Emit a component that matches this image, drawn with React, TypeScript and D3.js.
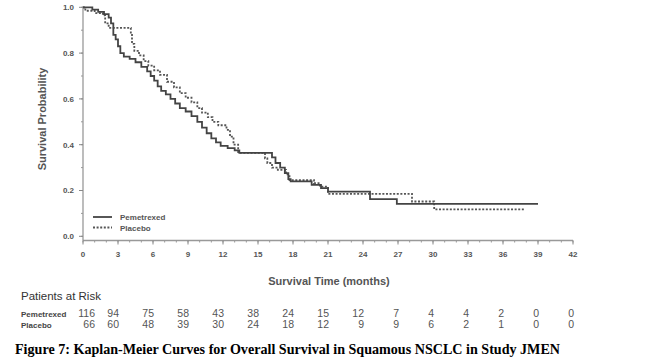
import React from "react";
import * as d3 from "d3";

// Kaplan-Meier step points: [months, survival probability]
const pemetrexedSteps: [number, number][] = [
  [0, 1.0], [0.8, 0.99], [1.3, 0.98], [1.8, 0.97], [2.2, 0.955], [2.4, 0.93], [2.6, 0.88],
  [2.8, 0.86], [3.0, 0.83], [3.2, 0.8], [3.5, 0.785], [4.0, 0.775], [4.5, 0.76], [5.0, 0.74],
  [5.5, 0.72], [5.8, 0.7], [6.1, 0.68], [6.4, 0.655], [6.7, 0.635], [7.1, 0.62], [7.5, 0.6],
  [7.9, 0.58], [8.3, 0.56], [8.8, 0.545], [9.3, 0.525], [9.8, 0.5], [10.2, 0.475], [10.6, 0.45],
  [11.0, 0.428], [11.4, 0.41], [11.8, 0.395], [12.4, 0.385], [13.0, 0.375], [13.4, 0.364],
  [16.2, 0.345], [16.5, 0.32], [16.9, 0.3], [17.3, 0.276], [17.6, 0.25], [17.8, 0.24],
  [19.6, 0.225], [20.4, 0.21], [21.0, 0.195], [24.6, 0.162], [26.9, 0.142], [39.0, 0.142],
];

const placeboSteps: [number, number][] = [
  [0, 1.0], [0.2, 0.985], [1.0, 0.975], [1.7, 0.965], [1.9, 0.93], [2.2, 0.91], [4.1, 0.88],
  [4.2, 0.84], [4.4, 0.81], [4.8, 0.79], [5.2, 0.765], [5.6, 0.745], [6.1, 0.725], [6.6, 0.705],
  [7.2, 0.675], [7.8, 0.65], [8.3, 0.625], [8.8, 0.605], [9.3, 0.585], [9.8, 0.56], [10.2, 0.54],
  [10.7, 0.52], [11.1, 0.5], [11.6, 0.485], [12.3, 0.465], [12.6, 0.435], [12.9, 0.4],
  [13.3, 0.364], [15.6, 0.34], [15.8, 0.32], [16.2, 0.3], [16.7, 0.29], [17.4, 0.27],
  [17.7, 0.245], [19.8, 0.232], [20.3, 0.217], [21.0, 0.185], [28.2, 0.152], [30.1, 0.118],
  [37.9, 0.118],
];

const riskTimes = [0, 3, 6, 9, 12, 15, 18, 21, 24, 27, 30, 33, 36, 39, 42];
const pemetrexedRisk = [116, 94, 75, 58, 43, 38, 24, 15, 12, 7, 4, 4, 2, 0, 0];
const placeboRisk = [66, 60, 48, 39, 30, 24, 18, 12, 9, 9, 6, 2, 1, 0, 0];

const yTicks = [0, 0.2, 0.4, 0.6, 0.8, 1.0];
const xTicks = d3.range(0, 43, 3);

const W = 666;
const H = 363;
const axisFont = "'Liberation Sans', Arial, sans-serif";

export default function App() {
  const x = d3.scaleLinear().domain([0, 42]).range([83, 573]);
  const y = d3.scaleLinear().domain([0, 1]).range([236.3, 7.3]);
  const xAxisY = 240.5;

  const line = d3
    .line<[number, number]>()
    .curve(d3.curveStepAfter)
    .x((d) => x(d[0]))
    .y((d) => y(d[1]));

  const minorX = d3.range(0, 43, 1);
  const minorY = d3.range(0, 1.01, 0.1);

  return (
    <div style={{ position: "fixed", left: 0, top: 0 }}>
      <svg width={W} height={H} style={{ display: "block", background: "#fff" }}>
        {/* y axis */}
        <line x1={x(0)} x2={x(0)} y1={y(1) - 1} y2={xAxisY} stroke="#999" strokeWidth={1.3} />
        {minorY.map((v) => (
          <line key={"my" + v} x1={x(0) - 2} x2={x(0)} y1={y(v)} y2={y(v)} stroke="#999" />
        ))}
        {yTicks.map((v) => (
          <g key={"yt" + v}>
            <line x1={x(0) - 4} x2={x(0)} y1={y(v)} y2={y(v)} stroke="#888" />
            <text
              x={x(0) - 9}
              y={y(v)}
              dy="0.35em"
              textAnchor="end"
              fontFamily={axisFont}
              fontWeight="bold"
              fontSize={8}
              fill="#555"
            >
              {d3.format(".1f")(v)}
            </text>
          </g>
        ))}
        <text
          transform={`translate(46,119) rotate(-90)`}
          textAnchor="middle"
          fontFamily={axisFont}
          fontWeight="bold"
          fontSize={11}
          fill="#555"
        >
          Survival Probability
        </text>

        {/* x axis */}
        <line x1={x(0)} x2={x(42)} y1={xAxisY} y2={xAxisY} stroke="#999" strokeWidth={1.3} />
        {minorX.map((t) => (
          <line key={"mx" + t} x1={x(t)} x2={x(t)} y1={xAxisY} y2={xAxisY + 2} stroke="#999" />
        ))}
        {xTicks.map((t) => (
          <g key={"xt" + t}>
            <line x1={x(t)} x2={x(t)} y1={xAxisY} y2={xAxisY + 4} stroke="#888" />
            <text
              x={x(t)}
              y={257}
              textAnchor="middle"
              fontFamily={axisFont}
              fontWeight="bold"
              fontSize={8}
              fill="#555"
            >
              {t}
            </text>
          </g>
        ))}
        <text
          x={329}
          y={285}
          textAnchor="middle"
          fontFamily={axisFont}
          fontWeight="bold"
          fontSize={11}
          fill="#555"
        >
          Survival Time (months)
        </text>

        {/* curves */}
        <path d={line(placeboSteps) ?? ""} fill="none" stroke="#555" strokeWidth={1.8} strokeDasharray="2,1.6" />
        <path d={line(pemetrexedSteps) ?? ""} fill="none" stroke="#444" strokeWidth={1.8} />

        {/* legend */}
        <line x1={93} x2={112} y1={217} y2={217} stroke="#444" strokeWidth={1.8} />
        <line x1={93} x2={112} y1={227.5} y2={227.5} stroke="#555" strokeWidth={1.8} strokeDasharray="2,1.6" />
        <text x={120} y={220} fontFamily={axisFont} fontWeight="bold" fontSize={8} fill="#555">
          Pemetrexed
        </text>
        <text x={120} y={230.5} fontFamily={axisFont} fontWeight="bold" fontSize={8} fill="#555">
          Placebo
        </text>

        {/* patients at risk */}
        <text x={21} y={300} fontFamily={axisFont} fontSize={11.5} fill="#333">
          Patients at Risk
        </text>
        <text x={21} y={317} fontFamily={axisFont} fontWeight="bold" fontSize={8} fill="#444">
          Pemetrexed
        </text>
        <text x={21} y={328} fontFamily={axisFont} fontWeight="bold" fontSize={8} fill="#444">
          Placebo
        </text>
        {riskTimes.map((t, i) => (
          <g key={"r" + t} fontFamily={axisFont} fontSize={10.5} fill="#555" textAnchor="end">
            <text x={x(t) + (t === 0 ? 12 : 1)} y={317}>
              {pemetrexedRisk[i]}
            </text>
            <text x={x(t) + (t === 0 ? 12 : 1)} y={328}>
              {placeboRisk[i]}
            </text>
          </g>
        ))}

        {/* caption */}
        <text
          x={15}
          y={354}
          fontFamily="'Liberation Serif', 'Times New Roman', serif"
          fontWeight="bold"
          fontSize={14.1}
          fill="#000"
        >
          Figure 7: Kaplan-Meier Curves for Overall Survival in Squamous NSCLC in Study JMEN
        </text>
      </svg>
    </div>
  );
}
